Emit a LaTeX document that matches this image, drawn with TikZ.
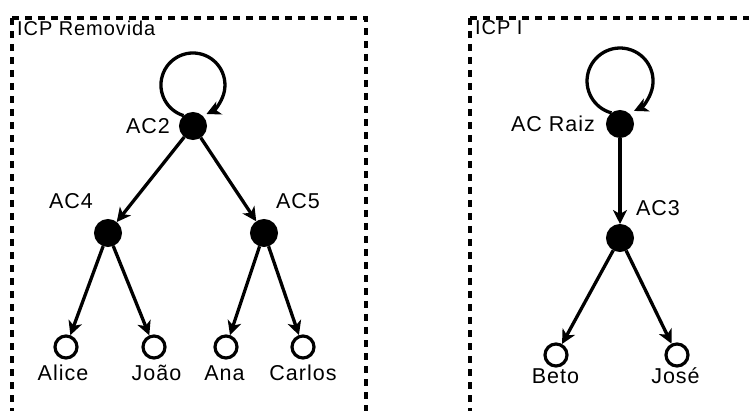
\documentclass[tikz,border=0pt]{standalone}
\usepackage{fontspec}
\setmainfont{Liberation Sans}
\newfontfamily\lblfont{Liberation Sans}[LetterSpace=4.6]
\usetikzlibrary{arrows.meta}

\begin{document}
\begin{tikzpicture}[x=1pt, y=-1pt,
  ca/.style={circle, fill=black, draw=black, line width=2pt,
             minimum size=26pt, inner sep=0pt},
  holder/.style={circle, fill=white, draw=black, line width=3.2pt,
                 minimum size=22pt, inner sep=0pt},
  lbl/.style={font=\lblfont\fontsize{21.5}{24}\selectfont, inner sep=0pt, anchor=base},
  ttl/.style={font=\lblfont\fontsize{20}{23}\selectfont, inner sep=0pt, anchor=base west},
  edge/.style={line width=3.3pt, -{Stealth[length=14pt, width=14pt, inset=4pt]}},
  boxline/.style={line width=3.6pt, dash pattern=on 7pt off 6pt},
]
\useasboundingbox (0,0) rectangle (749,411);
\clip (0,0) rectangle (749,411);

% domain frames (open at the bottom / right)
\draw[boxline] (12,18) -- (12,430);
\draw[boxline] (12,18) -- (366,18) -- (366,430);
\draw[boxline] (470,18) -- (470,430);
\draw[boxline] (470,18) -- (770,18);

\node[ttl] (t1) at (17,36) {ICP Removida};
\node[ttl] (t2) at (475,35) {ICP I};

% --- removed PKI ---
\node[ca] (ac2) at (193,126) {};
\node[ca] (ac4) at (108,233) {};
\node[ca] (ac5) at (264,233) {};
\node[holder] (alice)  at (66,347) {};
\node[holder] (joao)   at (154,347) {};
\node[holder] (ana)    at (226,347) {};
\node[holder] (carlos) at (303,347) {};

\node[lbl, anchor=base east] (ac2l) at (170,134) {AC2};
\node[lbl] (ac4l) at (71,209) {AC4};
\node[lbl] (ac5l) at (298,209) {AC5};
\node[lbl] (alicel)  at (63,380) {Alice};
\node[lbl] (joaol)   at (156.5,380) {João};
\node[lbl] (anal)    at (224.5,380) {Ana};
\node[lbl] (carlosl) at (303,380) {Carlos};

\draw[edge] ([shift={(-9.4,-10.4)}]ac2.center) arc[start angle=107, end angle=425, radius=32];
\draw[edge] (ac2) -- (ac4);
\draw[edge] (ac2) -- (ac5);
\draw[edge] (ac4) -- (alice);
\draw[edge] (ac4) -- (joao);
\draw[edge] (ac5) -- (ana);
\draw[edge] (ac5) -- (carlos);

% --- PKI I ---
\node[ca] (raiz) at (620,124) {};
\node[ca] (ac3)  at (620,238) {};
\node[holder] (beto) at (556,355) {};
\node[holder] (jose) at (677,355) {};

\node[lbl, anchor=base east] (raizl) at (595,132) {AC Raiz};
\node[lbl] (ac3l) at (658,216) {AC3};
\node[lbl] (betol) at (555.5,383) {Beto};
\node[lbl] (josel) at (675.5,383) {José};

\draw[edge] ([shift={(-8.5,-11.1)}]raiz.center) arc[start angle=105, end angle=425, radius=33];
\draw[edge] (raiz) -- (ac3);
\draw[edge] (ac3) -- (beto);
\draw[edge] (ac3) -- (jose);
\end{tikzpicture}
\end{document}
